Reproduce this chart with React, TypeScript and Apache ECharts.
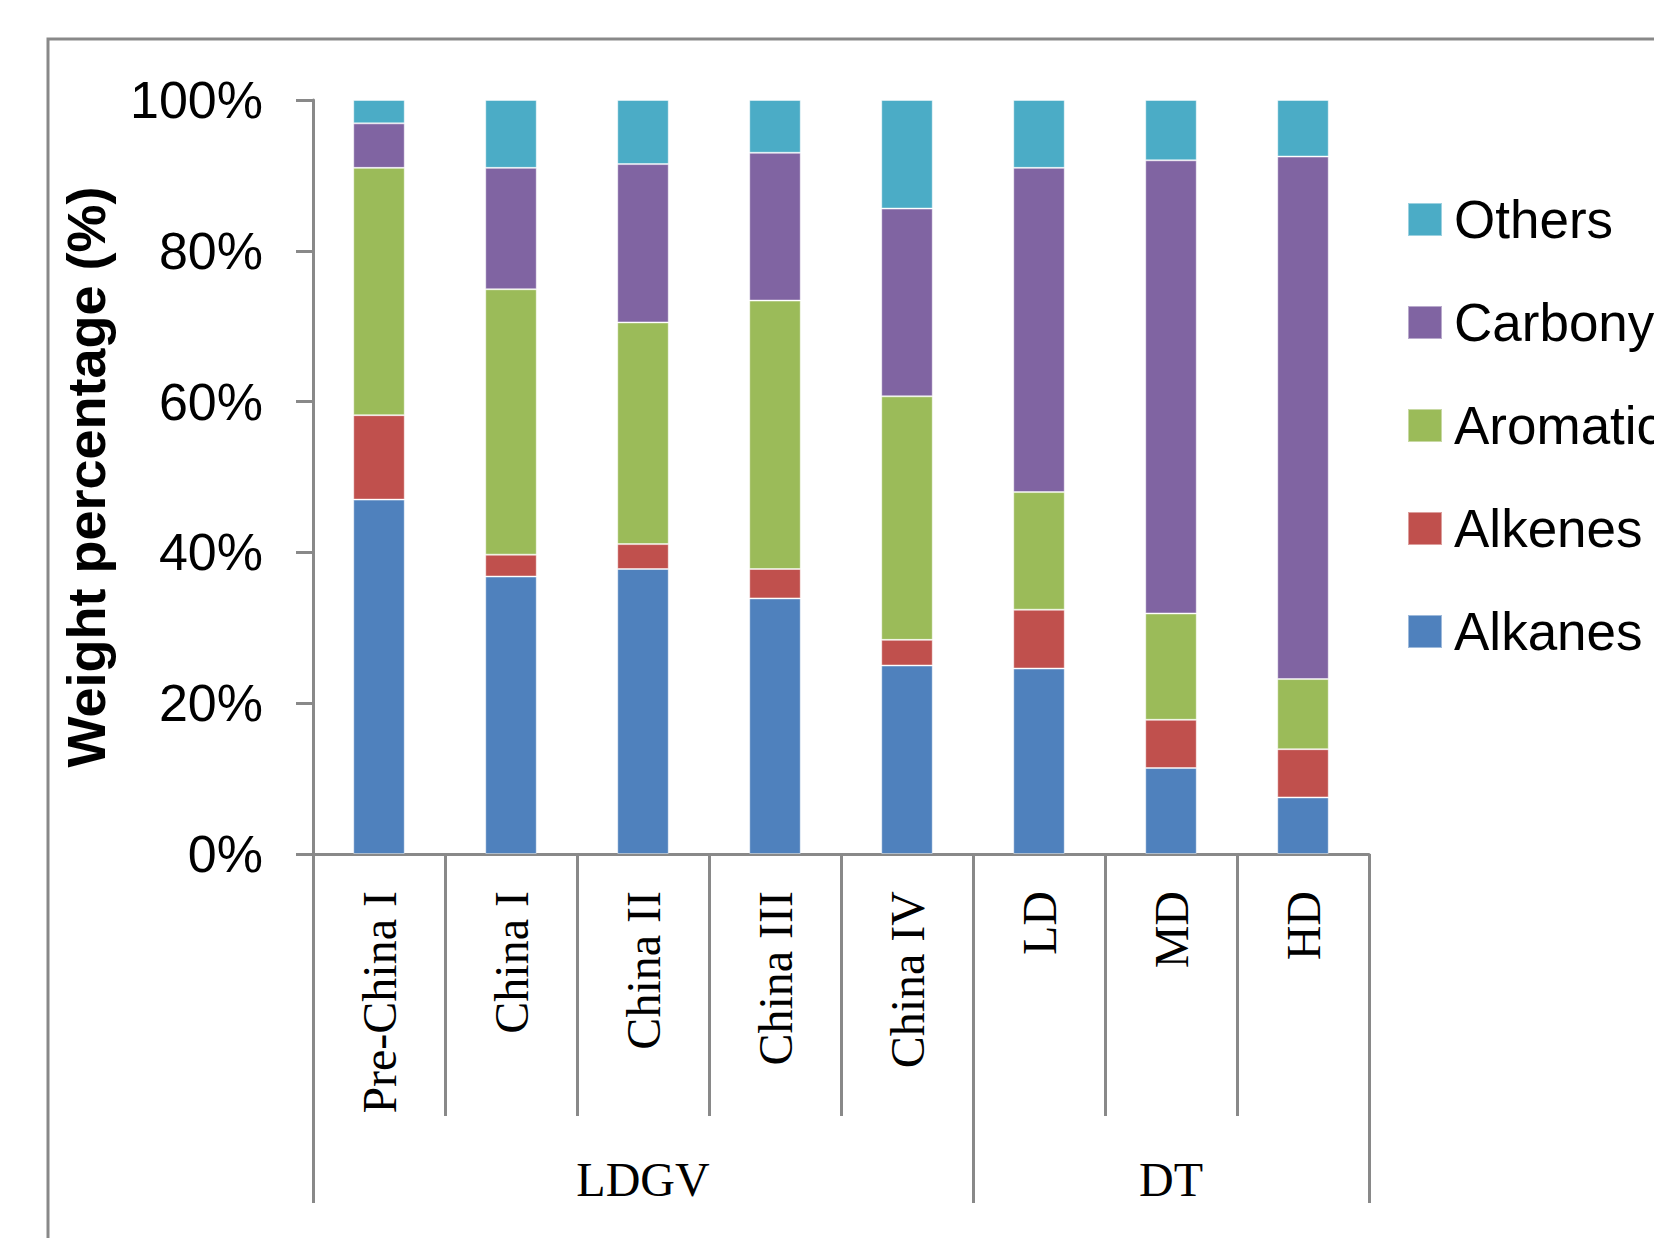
import React, { useEffect, useRef } from "react";
import * as echarts from "echarts";

// Vehicle classes along the x axis, with the group each belongs to
const categories = ["Pre-China I", "China I", "China II", "China III", "China IV", "LD", "MD", "HD"];
// group captions sit under the middle category of each group (LDGV: 0-4, DT: 5-7)
const groupLabels = ["", "", "LDGV", "", "", "", "DT", ""];
const groupStarts = [0, 5];

// Weight percentage of each compound class (%)
const alkanes = [47.0, 36.8, 37.8, 33.9, 25.0, 24.6, 11.4, 7.5];
const alkenes = [11.2, 2.9, 3.3, 3.9, 3.4, 7.8, 6.4, 6.4];
const aromatics = [32.8, 35.2, 29.4, 35.6, 32.3, 15.6, 14.1, 9.3];
const carbonyls = [5.9, 16.1, 21.0, 19.6, 24.9, 43.0, 60.1, 69.3];
const others = [3.1, 9.0, 8.5, 7.0, 14.4, 9.0, 8.0, 7.5];

const yTicks = [0, 20, 40, 60, 80, 100];

const GREY = "#898989";
const SANS = "'Liberation Sans', Arial, sans-serif";
const SERIF = "'Liberation Serif', 'Times New Roman', serif";

const seriesDefs = [
  { name: "Alkanes", data: alkanes, color: "#4F81BD" },
  { name: "Alkenes", data: alkenes, color: "#C0504D" },
  { name: "Aromatics", data: aromatics, color: "#9BBB59" },
  { name: "Carbonyls", data: carbonyls, color: "#8064A2" },
  { name: "Others", data: others, color: "#4BACC6" },
];

export default function App() {
  const ref = useRef<HTMLDivElement>(null);

  useEffect(() => {
    if (!ref.current) return;
    const chart = echarts.init(ref.current, null, { renderer: "svg" });

    const option = {
      animation: false,
      backgroundColor: "#ffffff",
      grid: { left: 313, right: 285, top: 100, bottom: 384, containLabel: false },
      legend: {
        orient: "vertical",
        left: 1402,
        top: 188,
        itemWidth: 34,
        itemHeight: 33,
        itemGap: 50,
        icon: "rect",
        data: ["Others", "Carbonyls", "Aromatics", "Alkenes", "Alkanes"],
        textStyle: {
          fontFamily: SANS,
          fontSize: 53,
          lineHeight: 53,
          color: "#000",
          padding: [0, 0, 0, 7],
        },
      },
      xAxis: [
        {
          type: "category",
          data: categories,
          position: "bottom",
          axisLine: { show: true, lineStyle: { color: GREY, width: 3 } },
          axisTick: { show: true, interval: 0, length: 262, lineStyle: { color: GREY, width: 3 } },
          axisLabel: {
            interval: 0,
            rotate: 90,
            margin: 37,
            fontFamily: SERIF,
            fontSize: 48,
            color: "#000",
          },
          splitLine: { show: false },
        },
        {
          type: "category",
          data: groupLabels,
          position: "bottom",
          offset: 0,
          axisLine: { show: false },
          axisTick: {
            show: true,
            interval: (i: number) => groupStarts.includes(i),
            length: 349,
            lineStyle: { color: GREY, width: 3 },
          },
          axisLabel: {
            interval: 0,
            margin: 301,
            fontFamily: SERIF,
            fontSize: 48,
            color: "#000",
          },
          splitLine: { show: false },
        },
      ],
      yAxis: {
        type: "value",
        min: yTicks[0],
        max: yTicks[yTicks.length - 1],
        interval: 20,
        name: "Weight percentage (%)",
        nameLocation: "middle",
        nameRotate: 90,
        nameGap: 200,
        nameTextStyle: { fontFamily: SANS, fontSize: 54, fontWeight: "bold", color: "#000" },
        axisLine: { show: true, lineStyle: { color: GREY, width: 3 } },
        axisTick: { show: true, length: 17, lineStyle: { color: GREY, width: 3 } },
        axisLabel: {
          formatter: "{value}%",
          margin: 50,
          fontFamily: SANS,
          fontSize: 52,
          color: "#000",
        },
        splitLine: { show: false },
      },
      series: seriesDefs.map((s) => ({
        name: s.name,
        type: "bar",
        stack: "total",
        xAxisIndex: 0,
        barWidth: "39%",
        data: s.data,
        itemStyle: { color: s.color, borderColor: "rgba(255,255,255,0.45)", borderWidth: 1 },
      })),
      graphic: [
        {
          type: "rect",
          silent: true,
          z: -1,
          shape: { x: 48, y: 39, width: 1800, height: 1400 },
          style: { fill: "none", stroke: GREY, lineWidth: 3 },
        },
      ],
    };

    chart.setOption(option as any);
    return () => chart.dispose();
  }, []);

  return (
    <div
      ref={ref}
      style={{ position: "fixed", left: 0, top: 0, width: 1654, height: 1238, background: "#fff" }}
    />
  );
}
